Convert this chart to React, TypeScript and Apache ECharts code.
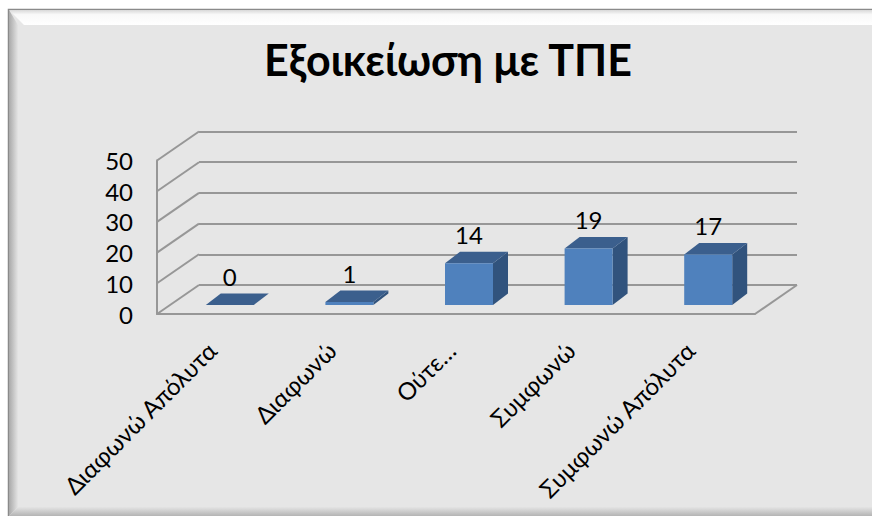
import React, { useEffect, useRef } from "react";
import * as echarts from "echarts";

const TITLE = "Εξοικείωση με ΤΠΕ";
const categories = [
  "Διαφωνώ Απόλυτα",
  "Διαφωνώ",
  "Ούτε Συμφωνώ Ούτε Διαφωνώ",
  "Συμφωνώ",
  "Συμφωνώ Απόλυτα",
];
const values = [0, 1, 14, 19, 17];
const yTicks = [0, 10, 20, 30, 40, 50];

// layout constants (3D oblique look)
const FRONT = { left: 157, top: 160.5, width: 598, height: 153.5 };
const WALL_DX = 42;
const WALL_DY = -29;
const BAR_SHIFT_X = 13;
const BAR_SHIFT_Y = -9;
const BAR_W = 48;
const DEPTH_X = 15;
const DEPTH_Y = -11.5;
const BAR_SCALE = 0.97;
const FONT = "Lato, 'Noto Sans', sans-serif";
const GRID_COLOR = "#979797";
const LABEL_SIZE = 24;

export default function App() {
  const ref = useRef<HTMLDivElement>(null);

  useEffect(() => {
    if (!ref.current) return;
    const chart = echarts.init(ref.current, undefined, { renderer: "svg" });

    const option: any = {
      animation: false,
      backgroundColor: "#ffffff",
      graphic: [
        {
          type: "rect",
          z: -10,
          shape: { x: 8.5, y: 9.5, width: 890, height: 520 },
          style: { fill: "#e6e6e6", stroke: "#8a8a8a", lineWidth: 1.5 },
          silent: true,
        },
        {
          type: "polygon",
          z: -9,
          shape: { points: [[9, 10], [900, 10], [900, 25], [24, 25]] },
          style: {
            fill: new echarts.graphic.LinearGradient(0, 0, 0, 1, [
              { offset: 0, color: "#d8d8d8" },
              { offset: 0.3, color: "#f8f8f8" },
              { offset: 1, color: "#ffffff" },
            ]),
          },
          silent: true,
        },
        {
          type: "polygon",
          z: -9,
          shape: { points: [[9, 10], [18, 25], [18, 507], [9, 516]] },
          style: {
            fill: new echarts.graphic.LinearGradient(0, 0, 1, 0, [
              { offset: 0, color: "#a9a9a9" },
              { offset: 1, color: "#e4e4e4" },
            ]),
          },
          silent: true,
        },
        {
          type: "polygon",
          z: -9,
          shape: { points: [[9, 516], [18, 507], [900, 507], [900, 516]] },
          style: {
            fill: new echarts.graphic.LinearGradient(0, 0, 0, 1, [
              { offset: 0, color: "#e4e4e4" },
              { offset: 1, color: "#b4b4b4" },
            ]),
          },
          silent: true,
        },
        {
          type: "text",
          z: 10,
          x: 448,
          y: 59,
          style: {
            text: TITLE,
            fontFamily: FONT,
            fontWeight: "bold",
            fontSize: 43,
            fill: "#000000",
            textAlign: "center",
            textVerticalAlign: "middle",
            align: "center",
            verticalAlign: "middle",
          },
        },
      ],
      grid: [
        { ...FRONT },
        {
          left: FRONT.left + WALL_DX,
          top: FRONT.top + WALL_DY,
          width: FRONT.width,
          height: FRONT.height,
        },
        {
          left: FRONT.left - 5,
          top: FRONT.top,
          width: FRONT.width,
          height: FRONT.height,
        },
      ],
      xAxis: [
        {
          type: "category",
          gridIndex: 0,
          data: categories,
          axisLine: { show: true, lineStyle: { color: GRID_COLOR, width: 2 } },
          axisTick: { show: false },
          axisLabel: { show: false },
          splitLine: { show: false },
        },
        {
          type: "category",
          gridIndex: 1,
          data: categories,
          show: false,
        },
        {
          type: "category",
          gridIndex: 2,
          data: categories,
          axisLine: { show: false },
          axisTick: { show: false },
          splitLine: { show: false },
          axisLabel: {
            show: true,
            interval: 0,
            rotate: 45,
            margin: 32,
            fontSize: LABEL_SIZE,
            fontFamily: FONT,
            color: "#000000",
            formatter: (v: string) =>
              v.length > 20 ? v.split(" ")[0] + "…" : v,
          },
        },
      ],
      yAxis: [
        {
          type: "value",
          gridIndex: 0,
          min: 0,
          max: 50,
          interval: 10,
          axisLine: { show: true, lineStyle: { color: GRID_COLOR, width: 2 } },
          axisTick: { show: false },
          splitLine: { show: false },
          axisLabel: {
            margin: 24,
            fontSize: LABEL_SIZE,
            fontFamily: FONT,
            color: "#000000",
          },
        },
        {
          type: "value",
          gridIndex: 1,
          min: 0,
          max: 50,
          interval: 10,
          axisLine: { show: false },
          axisTick: { show: false },
          axisLabel: { show: false },
          splitLine: { show: true, lineStyle: { color: GRID_COLOR, width: 2 } },
        },
        {
          type: "value",
          gridIndex: 2,
          min: 0,
          max: 50,
          interval: 10,
          show: false,
        },
      ],
      series: [
        {
          type: "custom",
          name: "walls",
          xAxisIndex: 0,
          yAxisIndex: 0,
          silent: true,
          z: 1,
          data: yTicks.map((v) => [0, v]),
          renderItem: (params: any, api: any) => {
            const cs = params.coordSys;
            const y = api.coord([0, api.value(1)])[1];
            const x = cs.x;
            return {
              type: "line",
              shape: { x1: x, y1: y, x2: x + WALL_DX, y2: y + WALL_DY },
              style: { stroke: GRID_COLOR, lineWidth: 2 },
            };
          },
        },
        {
          type: "custom",
          name: "floor",
          xAxisIndex: 0,
          yAxisIndex: 0,
          silent: true,
          z: 1,
          data: [[categories.length - 1, 0]],
          renderItem: (params: any, api: any) => {
            const cs = params.coordSys;
            const y = api.coord([0, 0])[1];
            const x = cs.x + cs.width;
            return {
              type: "line",
              shape: { x1: x, y1: y, x2: x + WALL_DX, y2: y + WALL_DY },
              style: { stroke: GRID_COLOR, lineWidth: 2 },
            };
          },
        },
        {
          type: "custom",
          name: "Εξοικείωση με ΤΠΕ",
          xAxisIndex: 0,
          yAxisIndex: 0,
          z: 5,
          data: values.map((v, i) => [i, v]),
          renderItem: (params: any, api: any) => {
            const idx = api.value(0);
            const val = api.value(1);
            const top = api.coord([idx, val]);
            const base = api.coord([idx, 0]);
            const h = (base[1] - top[1]) * BAR_SCALE;
            const xl = top[0] + BAR_SHIFT_X - BAR_W / 2;
            const xr = xl + BAR_W;
            const yb = base[1] + BAR_SHIFT_Y;
            const yt = yb - h;
            return {
              type: "group",
              children: [
                {
                  type: "polygon",
                  shape: {
                    points: [
                      [xr, yt],
                      [xr + DEPTH_X, yt + DEPTH_Y],
                      [xr + DEPTH_X, yb + DEPTH_Y],
                      [xr, yb],
                    ],
                  },
                  style: { fill: "#31537d" },
                },
                {
                  type: "polygon",
                  shape: {
                    points: [
                      [xl, yt],
                      [xr, yt],
                      [xr + DEPTH_X, yt + DEPTH_Y],
                      [xl + DEPTH_X, yt + DEPTH_Y],
                    ],
                  },
                  style: { fill: "#3b5f8d" },
                },
                {
                  type: "rect",
                  shape: { x: xl, y: yt, width: BAR_W, height: h },
                  style: { fill: "#4f81bd" },
                },
                {
                  type: "text",
                  style: {
                    text: String(val),
                    x: (xl + xr) / 2,
                    y: yt + DEPTH_Y - 17.3,
                    fontSize: LABEL_SIZE,
                    fontFamily: FONT,
                    fill: "#000000",
                    textAlign: "center",
                    textVerticalAlign: "middle",
                    align: "center",
                    verticalAlign: "middle",
                  },
                },
              ],
            };
          },
        },
      ],
    };

    chart.setOption(option);
    return () => chart.dispose();
  }, []);

  return (
    <div
      ref={ref}
      style={{ position: "absolute", left: 0, top: 0, width: 872, height: 516 }}
    />
  );
}
